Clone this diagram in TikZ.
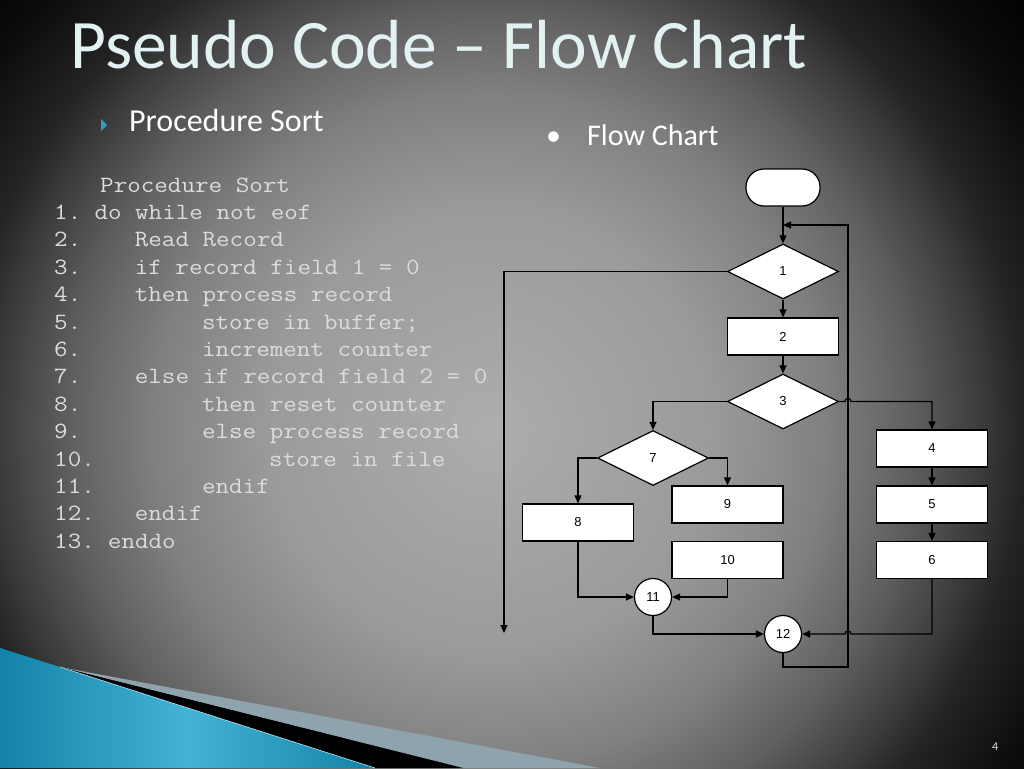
\documentclass[tikz,border=0pt]{standalone}
\usepackage{fontspec}
\setmainfont{Carlito}
\newfontfamily\chartfont{Liberation Sans}
\newfontfamily\codefont{Latin Modern Mono}[FakeStretch=1.13]
\usetikzlibrary{shapes.geometric,arrows.meta}
\definecolor{bgcore}{HTML}{ADADAD}
\definecolor{bgmid}{HTML}{9A9A9A}
\definecolor{bgsoft}{HTML}{808080}
\definecolor{bgdim}{HTML}{606060}
\definecolor{bgdark}{HTML}{3C3C3C}
\definecolor{bgdeep}{HTML}{242424}
\definecolor{bgedge}{HTML}{0C0C0C}
\definecolor{titlecol}{HTML}{E2F2F2}
\definecolor{codecol}{HTML}{DCDCDC}
\definecolor{tealcol}{HTML}{2E9FC0}
\definecolor{wedgedark}{HTML}{1282A8}
\definecolor{wedgelight}{HTML}{45B3D4}
\definecolor{stripecol}{HTML}{8EA3AC}
\pgfdeclareradialshading{slidebg}{\pgfpoint{0bp}{0bp}}{color(0bp)=(bgcore); color(8bp)=(bgmid); color(12bp)=(bgsoft); color(15bp)=(bgdim); color(17.5bp)=(bgdark); color(19bp)=(bgdeep); color(22bp)=(bgedge); color(25bp)=(black); color(50bp)=(black)}
\tikzset{box/.style={draw, fill=white, line width=1.2pt, minimum width=111pt, minimum height=37pt, inner sep=0pt, font=\chartfont\fontsize{13}{13}\selectfont},
  decision/.style={box, diamond, minimum height=55pt},
  terminal/.style={box, rounded corners=18pt, minimum width=74pt},
  joint/.style={box, circle, minimum size=37pt},
  flow/.style={line width=1.2pt, -{Triangle[length=8pt,width=7pt]}},
  code/.style={inner sep=0pt, anchor=base west, text=codecol, font=\codefont\fontsize{23.3}{23.3}\selectfont}}

\begin{document}
\begin{tikzpicture}[x=1pt,y=-1pt]
	\useasboundingbox (0,0) rectangle (1024,768);
	\begin{scope}
		\clip (0,0) rectangle (1024,768);
		\shade[shading=slidebg] (490,430) circle (700);
		% corner wedge
		\fill[stripecol] (60,667) -- (600,768) -- (463,768) -- cycle;
		\fill[black] (60,667) -- (463,768) -- (375,768) -- cycle;
		\shade[left color=wedgedark, right color=wedgedark, middle color=wedgelight] (0,648) -- (60,667) -- (375,768) -- (0,768) -- cycle;
		\draw[white!60!wedgelight, line width=0.6pt] (60,667) -- (375,768);
	\end{scope}
	% titles
	\node[anchor=base west, inner sep=0pt, text=titlecol, font=\fontsize{69.5}{69.5}\selectfont] (title) at (70,68) {Pseudo Code – Flow Chart};
	\fill[tealcol] (101,119) -- (107,125) -- (101,131) -- cycle;
	\node[anchor=base west, inner sep=0pt, text=white, font=\fontsize{32}{32}\selectfont] (proc) at (129,131) {Procedure Sort};
	\node[anchor=base west, inner sep=0pt, text=white, font=\fontsize{30}{30}\selectfont] (dot) at (546,145) {•};
	\node[anchor=base west, inner sep=0pt, text=white, font=\fontsize{30}{30}\selectfont] (fc) at (587,145) {Flow Chart};
	\node[anchor=base west, inner sep=0pt, text=codecol, font=\fontsize{12}{12}\selectfont] (page) at (992,750) {4};
	% pseudo code
	\node[code] (head) at (100,192) {Procedure Sort};
	\foreach \num/\col/\txt [count=\i] in {1./3/do while not eof, 2./6/Read Record, 3./6/if record field 1 = 0, 4./6/then process record, 5./11/store in buffer;, 6./11/increment counter, 7./6/else if record field 2 = 0, 8./11/then reset counter, 9./11/else process record, 10./16/store in file, 11./11/endif, 12./6/endif, 13./4/enddo}
		{
		\node[code] (num\i) at (54,{192+27.4*\i}) {\num};
		\node[code] (line\i) at ({54+13.44*\col},{192+27.4*\i}) {\txt};
		}
	% flow chart
	\node[terminal] (t) at (783,187.5) {};
	\node[decision] (d1) at (783,271.5) {1};
	\node[box] (b2) at (783,336.5) {2};
	\node[decision] (d3) at (783,401.5) {3};
	\node[box] (b4) at (932,448.5) {4};
	\node[box] (b5) at (932,504.5) {5};
	\node[box] (b6) at (932,560) {6};
	\node[decision] (d7) at (653,458) {7};
	\node[box] (b8) at (578,522.5) {8};
	\node[box] (b9) at (727.5,504.5) {9};
	\node[box] (b10) at (727.5,560) {10};
	\node[joint] (c11) at (653,597) {11};
	\node[joint] (c12) at (783,634) {12};
	\coordinate (exit) at (504,633);
	\coordinate (back) at (783,225);
	\coordinate (loopbot) at (848,667);
	\coordinate (hop1) at (848,401.5);
	\coordinate (hop2) at (848,634);
	\draw[flow] (t) -- (d1);
	\draw[flow] (d1) -- (b2);
	\draw[flow] (b2) -- (d3);
	\draw[flow] (d1.west) -| (exit);
	\draw[flow] (d3.west) -| (d7.north);
	\draw[flow] (d3.east) -- ([xshift=-3pt]hop1) .. controls +(0,-4) and +(0,-4) .. ([xshift=3pt]hop1) -| (b4.north);
	\draw[flow] (b4) -- (b5);
	\draw[flow] (b5) -- (b6);
	\draw[flow] (d7.west) -| (b8.north);
	\draw[flow] (d7.east) -| (b9.north);
	\draw[flow] (b8.south) |- (c11.west);
	\draw[flow] (b10.south) |- (c11.east);
	\draw[flow] (c11.south) |- (c12.west);
	\draw[flow] (b6.south) |- ([xshift=3pt]hop2) .. controls +(0,-4) and +(0,-4) .. ([xshift=-3pt]hop2) -- (c12.east);
	\draw[flow] (c12.south) |- (loopbot) |- (back);
\end{tikzpicture}
\end{document}
